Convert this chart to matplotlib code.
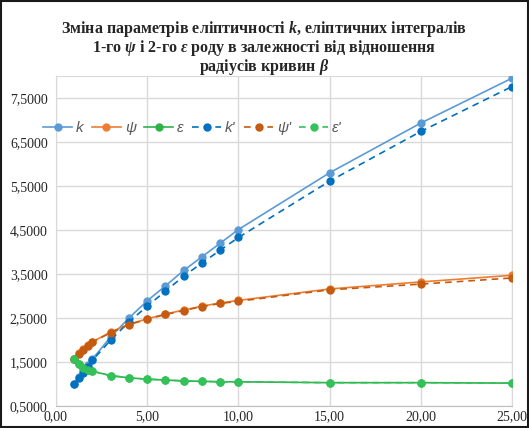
import matplotlib
matplotlib.use("Agg")
import matplotlib.pyplot as plt
from matplotlib.ticker import FuncFormatter
from matplotlib.patches import Rectangle

beta = [1, 1.25, 1.5, 1.75, 2, 3, 4, 5, 6, 7, 8, 9, 10, 15, 20, 25]
k = [1.00, 1.16, 1.30, 1.44, 1.57, 2.07, 2.50, 2.89, 3.23, 3.58, 3.89, 4.20, 4.51, 5.80, 6.93, 7.95]
psi = [1.57, 1.70, 1.79, 1.88, 1.96, 2.18, 2.36, 2.48, 2.59, 2.68, 2.77, 2.84, 2.90, 3.16, 3.32, 3.47]
eps = [1.57, 1.45, 1.37, 1.32, 1.29, 1.19, 1.14, 1.11, 1.09, 1.07, 1.06, 1.05, 1.05, 1.03, 1.03, 1.02]
k2 = [1.00, 1.13, 1.25, 1.39, 1.54, 2.00, 2.41, 2.77, 3.11, 3.45, 3.75, 4.04, 4.33, 5.61, 6.74, 7.76]
psi2 = [1.57, 1.69, 1.78, 1.87, 1.95, 2.17, 2.35, 2.47, 2.58, 2.67, 2.76, 2.83, 2.88, 3.14, 3.27, 3.41]
eps2 = [1.57, 1.45, 1.37, 1.32, 1.29, 1.19, 1.14, 1.11, 1.09, 1.07, 1.06, 1.05, 1.05, 1.03, 1.03, 1.02]

labels = ["k", "ψ", "ε", "k'", "ψ'", "ε'"]
xticks = [0, 5, 10, 15, 20, 25]
yticks = [0.5, 1.5, 2.5, 3.5, 4.5, 5.5, 6.5, 7.5]

plt.rcParams["mathtext.fontset"] = "custom"
plt.rcParams["mathtext.rm"] = "Liberation Serif:bold"
plt.rcParams["mathtext.it"] = "Liberation Serif:italic:bold"
plt.rcParams["mathtext.bf"] = "Liberation Serif:bold"
plt.rcParams["mathtext.bfit"] = "Liberation Serif:italic:bold"

fig = plt.figure(figsize=(5.29, 4.28), dpi=100)
ax = fig.add_axes([56/529, 1-406/428, (512-56)/529, (406-76)/428])

ms = 5
lw = 1.2
ax.plot(beta, k, color="#5B9BD5", lw=lw, marker="o", ms=ms, label=labels[0], zorder=3)
ax.plot(beta, psi, color="#ED7D31", lw=lw, marker="o", ms=ms, label=labels[1], zorder=3)
ax.plot(beta, eps, color="#2DB34A", lw=lw, marker="o", ms=ms, label=labels[2], zorder=3)
ax.plot(beta, k2, color="#0070C0", lw=lw, ls=(0, (4, 3)), marker="o", ms=ms, label=labels[3], zorder=4)
ax.plot(beta, psi2, color="#C55A11", lw=lw, ls=(0, (4, 3)), marker="o", ms=ms, label=labels[4], zorder=4)
ax.plot(beta, eps2, color="#33C15A", lw=lw, ls=(0, (4, 3)), marker="o", ms=ms, label=labels[5], zorder=4)

ax.set_xlim(0, 25)
ax.set_ylim(0.5, 8.0)
ax.set_xticks(xticks)
ax.set_yticks(yticks)
ax.xaxis.set_major_formatter(FuncFormatter(lambda v, p: f"{v:.2f}".replace(".", ",")))
ax.yaxis.set_major_formatter(FuncFormatter(lambda v, p: f"{v:.4f}".replace(".", ",")))
ax.grid(True, color="#D9D9D9", lw=1)
ax.set_axisbelow(True)
for s in ["top", "left", "right"]:
    ax.spines[s].set_color("#D9D9D9")
ax.spines["bottom"].set_color("#BFBFBF")
ax.tick_params(axis="y", length=0, labelsize=10, colors="#262626", pad=6)
ax.tick_params(axis="x", length=0, labelsize=10, colors="#262626", pad=3)
for t in ax.get_xticklabels() + ax.get_yticklabels():
    t.set_fontfamily("Liberation Serif")

leg = fig.legend(loc="center left", bbox_to_anchor=(43/529, 1-128/428), ncol=6, frameon=False,
                 handlelength=1.9, columnspacing=0.55, handletextpad=0.25,
                 borderpad=0, borderaxespad=0,
                 prop={"family": "Liberation Sans", "style": "italic", "size": 11})
for t in leg.get_texts():
    t.set_color("#595959")

fig.text(0.5, 0.955,
         "Зміна параметрів еліптичності $\\mathit{k}$, еліптичних інтегралів\n"
         "1-го $\\mathbfit{\\psi}$ і 2-го $\\mathbfit{\\varepsilon}$ роду в залежності від відношення\n"
         "радіусів кривин $\\mathbfit{\\beta}$",
         ha="center", va="top", fontsize=11.5, fontweight="bold",
         family="Liberation Serif", color="#262626", linespacing=0.92)

fig.patches.append(Rectangle((0.002, 0.002), 0.996, 0.996, transform=fig.transFigure,
                             fill=False, edgecolor="#1a1a1a", lw=1.5))

fig.savefig("out.png", dpi=100)
